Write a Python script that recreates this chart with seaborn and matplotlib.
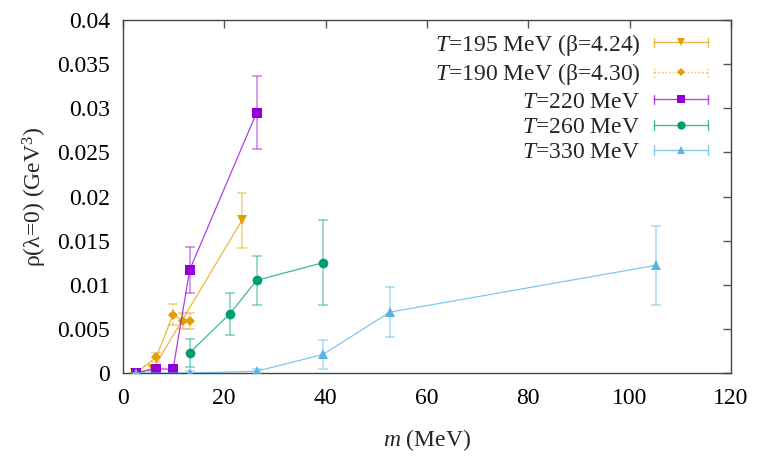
import numpy as np
import pandas as pd
import matplotlib
matplotlib.use("Agg")
import matplotlib.pyplot as plt
import seaborn as sns
from matplotlib.lines import Line2D
from matplotlib.legend_handler import HandlerBase
from matplotlib.ticker import FormatStrFormatter

# ---------------- data ----------------
m195 = [2.4, 6.0, 23.5]
r195 = [0.0, 0.0005, 0.0173]
e195 = [0.0, 0.0003, 0.0031]

m190 = [2.6, 6.6, 9.9, 11.9, 13.2]
r190 = [0.0, 0.0018, 0.0066, 0.0059, 0.0059]
e190 = [0.0, 0.0005, 0.0012, 0.0009, 0.0009]

m220 = [2.6, 6.6, 9.9, 13.2, 26.4]
r220 = [0.0, 0.0005, 0.0004, 0.0117, 0.0295]
e220 = [0.0, 0.0002, 0.0002, 0.0026, 0.0041]

m260 = [13.2, 21.1, 26.4, 39.5]
r260 = [0.0023, 0.0067, 0.0105, 0.0125]
e260 = [0.0016, 0.0024, 0.0028, 0.0048]

m330 = [2.6, 13.2, 26.4, 39.5, 52.7, 105.2]
r330 = [0.0, 0.0, 0.0002, 0.0021, 0.0069, 0.0122]
e330 = [0.0, 0.0002, 0.0002, 0.0016, 0.0028, 0.0045]

labels = [r"$T$=195 MeV (β=4.24)", r"$T$=190 MeV (β=4.30)",
          r"$T$=220 MeV", r"$T$=260 MeV", r"$T$=330 MeV"]
xticks = [0, 20, 40, 60, 80, 100, 120]
yticks = [0, 0.005, 0.01, 0.015, 0.02, 0.025, 0.03, 0.035, 0.04]

# ---------------- style ----------------
sns.set_theme(style="white")
plt.rcParams["font.family"] = ["Liberation Serif", "DejaVu Serif"]
plt.rcParams["mathtext.fontset"] = "custom"
plt.rcParams["mathtext.rm"] = "Liberation Serif"
plt.rcParams["mathtext.it"] = "Liberation Serif:italic"

FS = 17
colors = ["#e69f00", "#e69f00", "#9400d3", "#009e73", "#56b4e9"]
markers = ["v", "D", "s", "o", "^"]
msizes = [6.5, 5.0, 6.5, 7.0, 6.5]
series = [(m195, r195, e195), (m190, r190, e190), (m220, r220, e220),
          (m260, r260, e260), (m330, r330, e330)]
errls = ["-", (0, (2, 2)), "-", "-", "-"]

fig = plt.figure(figsize=(7.63, 4.58), dpi=100)
ax = fig.add_axes([0.161, 0.1856, 0.797, 0.7707])

for i, (m, r, e) in enumerate(series):
    df = pd.DataFrame({"m": m, "rho": r})
    eb = ax.errorbar(m, r, yerr=e, fmt="none", ecolor=colors[i], alpha=0.45,
                     elinewidth=1.2, capsize=3.5, capthick=1.2, zorder=2 + i)
    if errls[i] != "-":
        for lc in eb[2]:
            lc.set_linestyle(errls[i])
    sns.lineplot(data=df, x="m", y="rho", ax=ax, color=colors[i], lw=0.9,
                 marker=markers[i], markersize=msizes[i],
                 markeredgewidth=0, sort=False, zorder=2.5 + i, legend=False)

for ln in ax.lines:
    ln.set_color(matplotlib.colors.to_rgba(ln.get_color(), 0.75))
    ln.set_markerfacecolor(matplotlib.colors.to_rgba(ln.get_markerfacecolor(), 1.0))

ax.set_xlim(0, 120)
ax.set_ylim(0, 0.04)
ax.set_xticks(xticks)
ax.set_yticks(yticks)
ax.yaxis.set_major_formatter(FormatStrFormatter("%g"))
ax.xaxis.set_major_formatter(FormatStrFormatter("%g"))
ax.tick_params(direction="in", length=6, width=1, color="#555555",
               top=True, right=True, labelsize=FS, labelcolor="black")
ax.tick_params(axis="x", pad=11)
ax.tick_params(axis="y", pad=9)
for s in ax.spines.values():
    s.set_color("#444444")
    s.set_linewidth(1.0)
ax.grid(False)

ax.set_xlabel(r"$m$ (MeV)", fontsize=FS, labelpad=13)
ax.set_ylabel(r"ρ(λ=0) (GeV$^3$)", fontsize=FS, labelpad=6)


class HandlerErrLine(HandlerBase):
    def create_artists(self, legend, orig_handle, xdescent, ydescent,
                       width, height, fontsize, trans):
        c = orig_handle.get_color()
        ls = orig_handle.get_linestyle()
        y = height / 2 - ydescent
        x0, x1 = -xdescent, width - xdescent
        h = 3.5
        arts = [Line2D([x0, x1], [y, y], color=c, lw=1.0, alpha=0.7, ls=ls, transform=trans),
                Line2D([x0, x0], [y - h, y + h], color=c, lw=1.0, alpha=0.7, ls=ls, transform=trans),
                Line2D([x1, x1], [y - h, y + h], color=c, lw=1.0, alpha=0.7, ls=ls, transform=trans),
                Line2D([(x0 + x1) / 2], [y], color=c, lw=0, marker=orig_handle.get_marker(),
                       markersize=orig_handle.get_markersize(), markeredgewidth=0,
                       transform=trans)]
        return arts


handles = []
for i in range(5):
    ls = ":" if i == 1 else "-"
    handles.append(Line2D([], [], color=colors[i], marker=markers[i],
                          markersize=msizes[i] - 1, ls=ls))

leg = ax.legend(handles, labels, loc="upper right", bbox_to_anchor=(0.962, 0.967),
                frameon=False, fontsize=FS, markerfirst=False, handlelength=2.3,
                handletextpad=0.55, labelspacing=0.16, borderpad=0, borderaxespad=0,
                handler_map={Line2D: HandlerErrLine()})

fig.savefig("out.png", dpi=100)
